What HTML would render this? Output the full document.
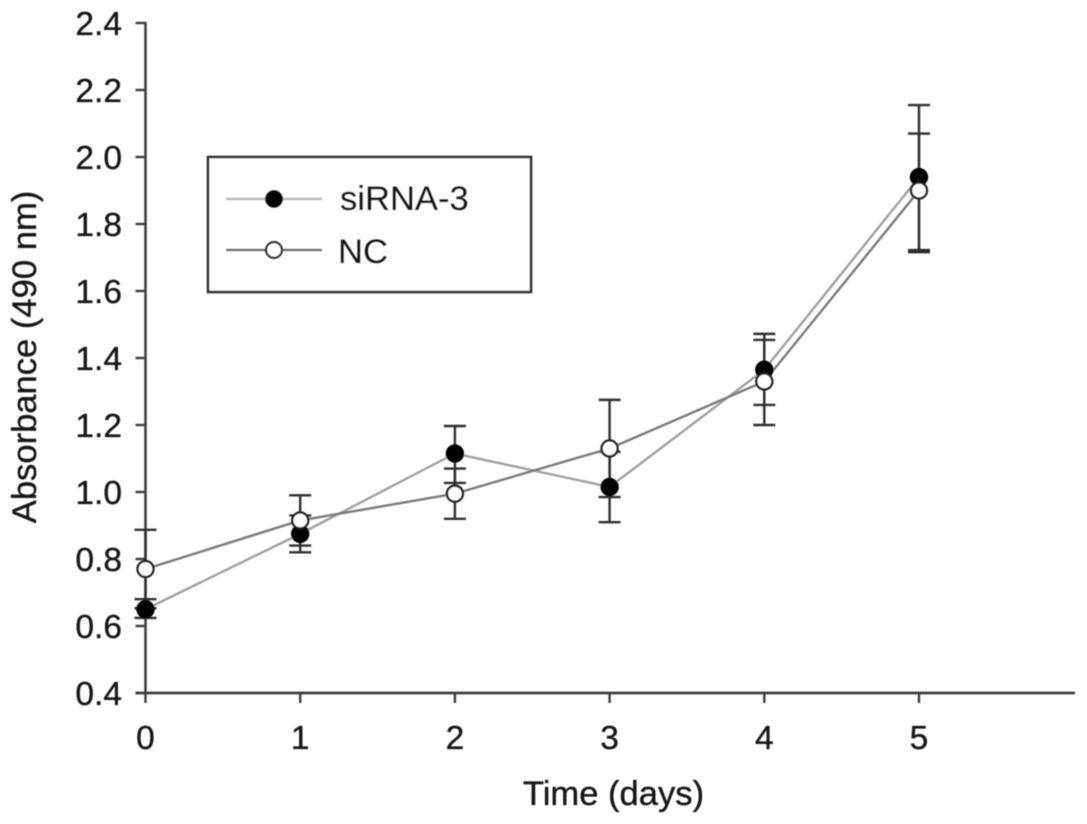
<!DOCTYPE html>
<html lang="en">
<head>
<meta charset="utf-8">
<title>Absorbance over time</title>
<style>
html,body{margin:0;padding:0;background:#fff;width:1087px;height:824px;overflow:hidden}
svg{display:block}
text{font-family:"Liberation Sans",Arial,sans-serif;fill:#141414;stroke:#141414;stroke-width:0.35px}
</style>
</head>
<body>
<svg id="chart" width="1087" height="824" viewBox="0 0 1087 824" xmlns="http://www.w3.org/2000/svg">
  <defs><filter id="soft" x="-5%" y="-5%" width="110%" height="110%"><feGaussianBlur stdDeviation="0.65"/></filter></defs>
  <g id="root" filter="url(#soft)"></g>
</svg>
<script>
const days = [0, 1, 2, 3, 4, 5];
const xTickLabels = ['0', '1', '2', '3', '4', '5'];
const yTickLabels = ['0.4', '0.6', '0.8', '1.0', '1.2', '1.4', '1.6', '1.8', '2.0', '2.2', '2.4'];
const sirnaValues = [0.65, 0.875, 1.115, 1.015, 1.365, 1.94];
const sirnaUpper = [0.68, 0.93, 1.197, 1.12, 1.472, 2.155];
const sirnaLower = [0.624, 0.82, 1.027, 0.91, 1.26, 1.722];
const ncValues = [0.77, 0.915, 0.995, 1.13, 1.33, 1.90];
const ncUpper = [0.887, 0.99, 1.07, 1.275, 1.454, 2.07];
const ncLower = [0.653, 0.84, 0.92, 0.985, 1.2, 1.716];

const NS = 'http://www.w3.org/2000/svg';
const root = document.getElementById('root');
const AXIS = '#3c3c3c';
const X = d => 145.5 + d * 154.7;
const Y = v => 693 - (v - 0.4) * 335;

function mk(tag, attrs, parent) {
  const el = document.createElementNS(NS, tag);
  for (const k in attrs) el.setAttribute(k, attrs[k]);
  (parent || root).appendChild(el);
  return el;
}
function line(x1, y1, x2, y2, stroke, w, parent) {
  return mk('line', {x1, y1, x2, y2, stroke, 'stroke-width': w}, parent);
}
function label(x, y, str, size, anchor, parent) {
  const t = mk('text', {x, y, 'font-size': size, 'text-anchor': anchor}, parent);
  t.textContent = str;
  return t;
}

/* axes */
const axisY = line(X(0), Y(2.4) - 1, X(0), Y(0.4) + 1, AXIS, 2.6);


const axisX = line(X(0) - 10, Y(0.4), 1075, Y(0.4), AXIS, 2.8);



yTickLabels.forEach(s => {
  const v = parseFloat(s);
  const tick = line(X(0) - 10, Y(v), X(0), Y(v), AXIS, 2.4);
  
  
  const t = label(122, Y(v) + 12, s, 33.5, 'end');
  
  
});
xTickLabels.forEach((s, i) => {
  const tick = line(X(days[i]), Y(0.4), X(days[i]), Y(0.4) + 10, AXIS, 2.4);
  
  
  const t = label(X(days[i]), 749, s, 33.5, 'middle');
  
  
});

/* axis titles */
const xTitle = label(613.5, 805, 'Time (days)', 34.6, 'middle');


const yTitle = label(0, 0, 'Absorbance (490 nm)', 34.6, 'middle');
yTitle.setAttribute('transform', 'translate(36,357) rotate(-90)');



/* error bars */
function drawErrors(upper, lower, name) {
  days.forEach((d, i) => {
    const g = mk('g', {});
    
    
    line(X(d), Y(upper[i]), X(d), Y(lower[i]), '#2e2e2e', 2.4, g);
    line(X(d) - 11, Y(upper[i]), X(d) + 11, Y(upper[i]), '#2e2e2e', 2.4, g);
    line(X(d) - 11, Y(lower[i]), X(d) + 11, Y(lower[i]), '#2e2e2e', 2.4, g);
  });
}
drawErrors(sirnaUpper, sirnaLower, 'sirna');
drawErrors(ncUpper, ncLower, 'nc');

/* series lines */
function drawLine(values, stroke, name) {
  const p = mk('polyline', {
    points: days.map((d, i) => X(d) + ',' + Y(values[i])).join(' '),
    fill: 'none', stroke, 'stroke-width': 2.4
  });
  
  
}
drawLine(sirnaValues, '#a0a0a0', 'sirna-line');
drawLine(ncValues, '#7a7a7a', 'nc-line');

/* markers */
function drawPoints(values, fill, stroke, name) {
  days.forEach((d, i) => {
    const c = mk('circle', {cx: X(d), cy: Y(values[i]), r: fill === '#fff' ? 8 : 9.2, fill, stroke, 'stroke-width': fill === '#fff' ? 2.4 : 0});
    
    
  });
}
drawPoints(sirnaValues, '#000', 'none', 'sirna-point');
drawPoints(ncValues, '#fff', '#222', 'nc-point');

/* legend */
const legend = mk('g', {});


const box = mk('rect', {x: 208, y: 157, width: 323, height: 135, fill: '#fff', stroke: '#2e2e2e', 'stroke-width': 2.6}, legend);



const e1 = mk('g', {}, legend);


line(226, 199, 322, 199, '#b4b4b4', 2.4, e1);
mk('circle', {cx: 274, cy: 199, r: 9, fill: '#000'}, e1);
label(340, 210, 'siRNA-3', 34.6, 'start', e1);

const e2 = mk('g', {}, legend);


line(226, 250, 322, 250, '#707070', 2.4, e2);
mk('circle', {cx: 274, cy: 250, r: 8, fill: '#fff', stroke: '#2e2e2e', 'stroke-width': 2.4}, e2);
label(338, 263, 'NC', 34.6, 'start', e2);
</script>
</body>
</html>
